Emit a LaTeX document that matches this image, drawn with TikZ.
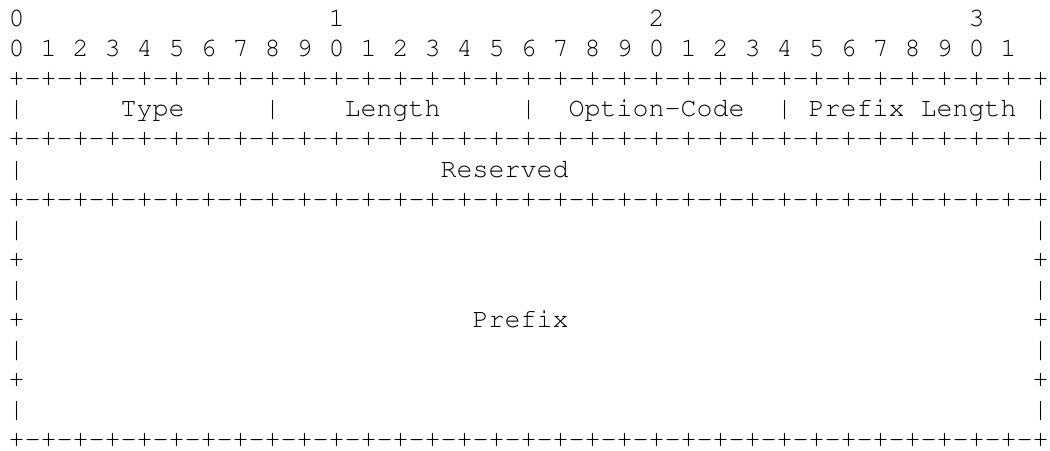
\documentclass[tikz,border=0pt]{standalone}
\usepackage[T1]{fontenc}
\usepackage{tikz}
\newcommand\pktrule{+-+-+-+-+-+-+-+-+-+-+-+-+-+-+-+-+-+-+-+-+-+-+-+-+-+-+-+-+-+-+-+-+}

\tikzset{
    cell/.style={anchor=base west, inner sep=0pt,
        font=\fontfamily{pcr}\fontsize{10pt}{11.25pt}\selectfont}
}

\begin{document}
\begin{tikzpicture}[x=6pt, y=-11.25pt]
    \useasboundingbox[fill=white] (-0.5,-0.9) rectangle (65.125,14.1);

    % Bit numbers
    \foreach \d in {0,...,3}
        \node[cell] (dec\d) at (20*\d,0) {\d};
    \node[cell] (bits) at (0,1) {0 1 2 3 4 5 6 7 8 9 0 1 2 3 4 5 6 7 8 9 0 1 2 3 4 5 6 7 8 9 0 1};

    % First word
    \node[cell] (rule1) at (0,2) {\pktrule};
    \foreach \c in {0,16,32,48,64}
        \node[cell] (sep\c) at (\c,3) {|};
    \node[cell] (type) at (7,3) {Type};
    \node[cell] (length) at (21,3) {Length};
    \node[cell] (optcode) at (35,3) {Option-Code};
    \node[cell] (pfxlen) at (50,3) {Prefix Length};
    \node[cell] (rule2) at (0,4) {\pktrule};

    % Second word
    \node[cell] (resl) at (0,5) {|};
    \node[cell] (reserved) at (27,5) {Reserved};
    \node[cell] (resr) at (64,5) {|};
    \node[cell] (rule3) at (0,6) {\pktrule};

    % Prefix block
    \foreach \r/\s in {7/|, 8/+, 9/|, 10/+, 11/|, 12/+, 13/|} {
        \node[cell] (left\r) at (0,\r) {\s};
        \node[cell] (right\r) at (64,\r) {\s};
    }
    \node[cell] (prefix) at (29,10) {Prefix};
    \node[cell] (rule4) at (0,14) {\pktrule};

\end{tikzpicture}
\end{document}
